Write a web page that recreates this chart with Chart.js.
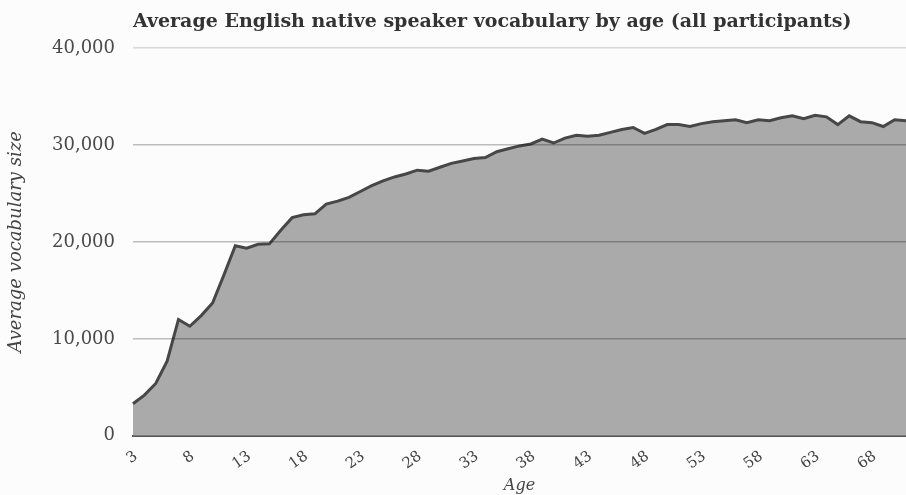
<!DOCTYPE html>
<html>
<head>
<meta charset="utf-8">
<script src="https://cdn.jsdelivr.net/npm/chart.js@4.4.1/dist/chart.umd.min.js"></script>
<style>
  html, body { margin: 0; padding: 0; background: #fcfcfc; }
  #wrap { width: 906px; height: 495px; position: relative; }
</style>
</head>
<body>
<div id="wrap"><canvas id="c" width="906" height="495"></canvas></div>
<script>
const chartTitle = 'Average English native speaker vocabulary by age (all participants)';
const ages = [3,4,5,6,7,8,9,10,11,12,13,14,15,16,17,18,19,20,21,22,23,24,25,26,27,28,29,30,31,32,33,34,35,36,37,38,39,40,41,42,43,44,45,46,47,48,49,50,51,52,53,54,55,56,57,58,59,60,61,62,63,64,65,66,67,68,69,70,71];
const vocabulary = [3300,4200,5400,7700,12000,11300,12400,13700,16600,19600,19350,19750,19800,21200,22500,22800,22900,23900,24200,24600,25200,25800,26300,26700,27000,27400,27300,27700,28100,28350,28600,28700,29300,29600,29900,30100,30600,30200,30700,31000,30900,31000,31300,31600,31800,31200,31600,32100,32100,31900,32200,32400,32500,32600,32300,32600,32500,32800,33000,32700,33050,32900,32100,33000,32400,32300,31900,32600,32500];
const xTickLabels = [3,8,13,18,23,28,33,38,43,48,53,58,63,68];
const yTickValues = [0,10000,20000,30000,40000];

const SERIF = '"DejaVu Serif", "Liberation Serif", serif';

const titlePlugin = {
  id: 'leftTitle',
  afterDraw(chart) {
    const ctx = chart.ctx;
    ctx.save();
    ctx.font = 'bold 19px ' + SERIF;
    ctx.fillStyle = '#333333';
    ctx.textBaseline = 'middle';
    ctx.textAlign = 'left';
    ctx.fillText(chartTitle, chart.chartArea.left, 22);
    ctx.restore();
  }
};

// rotated x tick labels placed with the x scale's own pixel mapping
const rotatedXLabels = {
  id: 'rotatedXLabels',
  afterDraw(chart) {
    const xs = chart.scales.x;
    const ctx = chart.ctx;
    ctx.save();
    ctx.font = '15px ' + SERIF;
    ctx.fillStyle = '#444444';
    ctx.textAlign = 'right';
    ctx.textBaseline = 'middle';
    ages.forEach((a, i) => {
      if (!xTickLabels.includes(a)) return;
      const x = xs.getPixelForValue(i);
      ctx.save();
      ctx.translate(x + 3, xs.top + 19);
      ctx.rotate(-35 * Math.PI / 180);
      ctx.fillText(String(a), 0, 0);
      ctx.restore();
    });
    ctx.restore();
  }
};

new Chart(document.getElementById('c'), {
  type: 'line',
  data: {
    labels: ages,
    datasets: [{
      data: vocabulary,
      borderColor: '#474747',
      borderWidth: 3,
      backgroundColor: '#aaaaaa',
      fill: 'origin',
      pointRadius: 0,
      tension: 0
    }]
  },
  options: {
    responsive: false,
    animation: false,
    layout: { padding: { top: 48, right: -6, left: 0, bottom: 0 } },
    plugins: { legend: { display: false }, tooltip: { enabled: false }, title: { display: false } },
    scales: {
      x: {
        type: 'category',
        offset: false,
        grid: { display: false, drawTicks: false },
        border: { display: true, color: '#555555', width: 2 },
        ticks: {
          autoSkip: false,
          maxRotation: 0,
          padding: 6,
          color: 'rgba(0,0,0,0)',
          font: { family: SERIF, size: 15 },
          callback: function(v, i) { const a = ages[i]; return xTickLabels.includes(a) ? String(a) : null; }
        },
        title: { display: true, text: 'Age', color: '#444444', font: { family: SERIF, size: 16, style: 'italic' }, padding: { top: 10, bottom: 0 } }
      },
      y: {
        min: 0, max: 40000,
        afterFit(scale) { scale.width = 133; },
        afterBuildTicks(scale) { scale.ticks = yTickValues.map(v => ({ value: v })); },
        grid: {
          z: 1,
          drawTicks: false,
          lineWidth: 1.5,
          color: function(ctx) {
            if (!ctx.tick || ctx.tick.value === 0) return 'rgba(0,0,0,0)';
            return ctx.tick.value === 40000 ? 'rgba(0,0,0,0.14)' : 'rgba(0,0,0,0.25)';
          }
        },
        border: { display: false },
        ticks: {
          padding: 18,
          color: '#4a4a4a',
          font: { family: SERIF, size: 18 },
          callback: v => v.toLocaleString('en-US')
        },
        title: { display: true, text: 'Average vocabulary size', color: '#444444', font: { family: SERIF, size: 18, style: 'italic' }, padding: { top: 6, bottom: 0 } }
      }
    }
  },
  plugins: [titlePlugin, rotatedXLabels]
});
</script>
</body>
</html>
